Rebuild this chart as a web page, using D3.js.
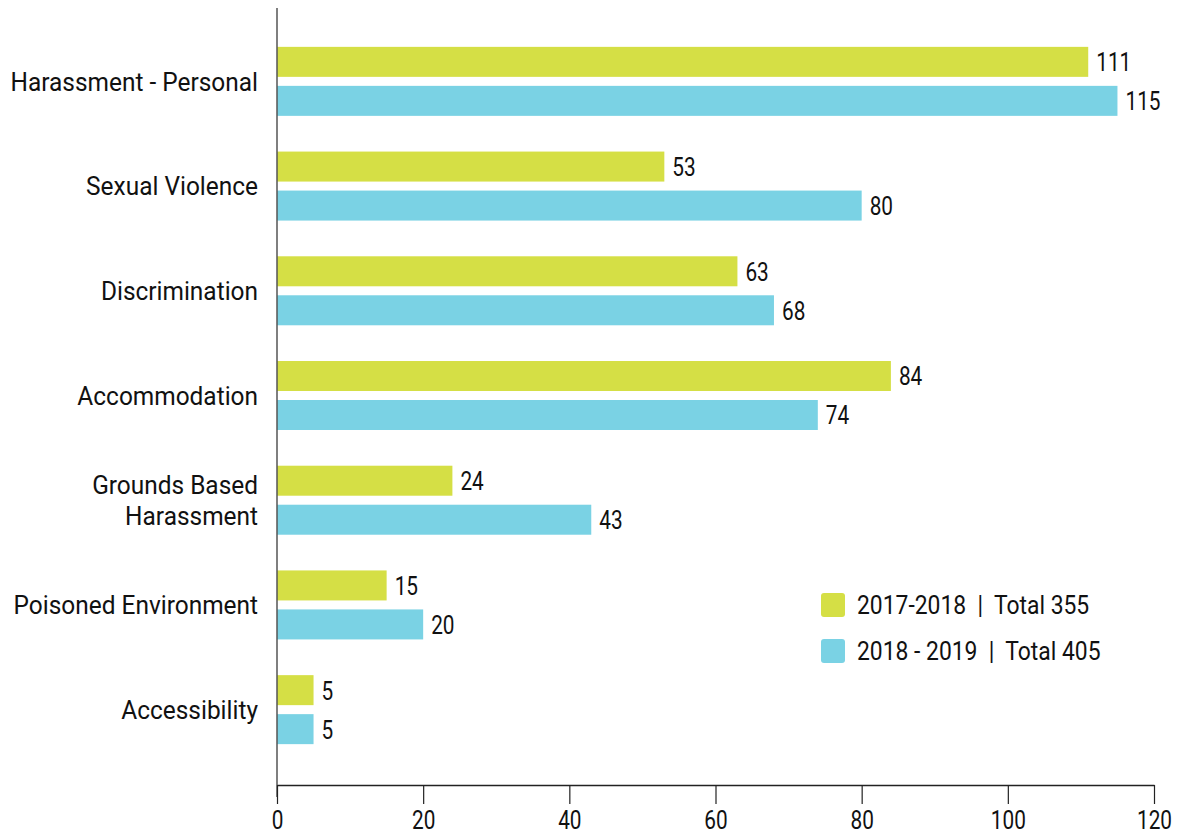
<!DOCTYPE html>
<html>
<head>
<meta charset="utf-8">
<script src="https://cdn.jsdelivr.net/npm/d3@7"></script>
<style>
  html, body { margin: 0; padding: 0; background: #fff; }
  svg text { font-family: "Roboto", "DejaVu Sans Condensed", sans-serif; fill: #111; }
</style>
</head>
<body>
<svg id="chart" width="1183" height="835"></svg>
<script>
// Complaint categories, top to bottom
const categories = [
  "Harassment - Personal",
  "Sexual Violence",
  "Discrimination",
  "Accommodation",
  "Grounds Based Harassment",
  "Poisoned Environment",
  "Accessibility"
];
// Display lines for each category label
const categoryLines = [
  ["Harassment - Personal"],
  ["Sexual Violence"],
  ["Discrimination"],
  ["Accommodation"],
  ["Grounds Based", "Harassment"],
  ["Poisoned Environment"],
  ["Accessibility"]
];
const seriesNames = ["2017-2018", "2018-2019"];
const legendLabels = ["2017-2018  |  Total 355", "2018 - 2019  |  Total 405"];
const values2017 = [111, 53, 63, 84, 24, 15, 5];
const values2019 = [115, 80, 68, 74, 43, 20, 5];
const xTicks = [0, 20, 40, 60, 80, 100, 120];
const colors = ["#d5df45", "#7ad2e4"];

const svg = d3.select("#chart");
const fontSize = 26;
// Horizontal squeeze to get a condensed look from the installed face
const squeezeLabel = 0.94, squeezeNum = 0.8, squeezeLegend = 0.88;

const x = d3.scaleLinear().domain([0, 120]).range([277, 1154]);
const y = d3.scaleBand().domain(categories).range([29, 762]).padding(0);
const ySub = d3.scaleBand().domain(seriesNames)
  .range([y.bandwidth() / 2 - 34.5, y.bandwidth() / 2 + 34.5])
  .paddingInner(9 / 39).paddingOuter(0);
const color = d3.scaleOrdinal().domain(seriesNames).range(colors);

const rows = categories.map((c, i) => ({
  category: c,
  lines: categoryLines[i],
  bars: [
    { series: seriesNames[0], value: values2017[i] },
    { series: seriesNames[1], value: values2019[i] }
  ]
}));

// Bars and value labels
const groups = svg.append("g").selectAll("g")
  .data(rows).join("g")
  .attr("transform", d => `translate(0,${y(d.category)})`);

groups.selectAll("rect")
  .data(d => d.bars).join("rect")
  .attr("x", x(0))
  .attr("y", d => ySub(d.series))
  .attr("width", d => x(d.value) - x(0))
  .attr("height", ySub.bandwidth())
  .attr("fill", d => color(d.series));

groups.selectAll("g.value")
  .data(d => d.bars).join("g")
  .attr("class", "value")
  .attr("transform", d => `translate(${x(d.value) + 8},${ySub(d.series) + ySub.bandwidth() / 2}) scale(${squeezeNum},1)`)
  .append("text")
  .attr("dy", "0.36em")
  .attr("font-size", fontSize)
  .text(d => d.value);

// Category labels
groups.append("g")
  .attr("transform", `translate(258,${y.bandwidth() / 2}) scale(${squeezeLabel},1)`)
  .append("text")
  .attr("text-anchor", "end")
  .attr("font-size", fontSize)
  .selectAll("tspan")
  .data(d => d.lines.map((t, i) => ({ t, i, n: d.lines.length })))
  .join("tspan")
  .attr("x", 0)
  .attr("dy", d => d.i === 0 ? `${0.36 - (d.n - 1) * 0.6}em` : "1.2em")
  .text(d => d.t);

// Vertical axis line
svg.append("line")
  .attr("x1", x(0)).attr("x2", x(0))
  .attr("y1", 8).attr("y2", 797)
  .attr("stroke", "#555").attr("stroke-width", 1.5);

// Bottom axis
const xAxis = d3.axisBottom(x).tickValues(xTicks).tickSize(19).tickSizeOuter(0).tickPadding(7);
const gx = svg.append("g").attr("transform", "translate(0,785)").call(xAxis);
gx.select(".domain").attr("stroke", "#222").attr("stroke-width", 1.5);
gx.selectAll(".tick line").attr("stroke", "#222").attr("stroke-width", 1.2);
gx.selectAll(".tick text")
  .attr("font-size", fontSize)
  .attr("font-family", null)
  .attr("fill", "#111")
  .attr("transform", `scale(${squeezeNum},1)`);

// Legend
const legend = svg.append("g").attr("transform", "translate(821,593)");
const items = legend.selectAll("g").data(seriesNames).join("g")
  .attr("transform", (d, i) => `translate(0,${i * 46})`);
items.append("rect")
  .attr("width", 24).attr("height", 24).attr("rx", 3)
  .attr("fill", d => color(d));
items.append("g")
  .attr("transform", `translate(36,12) scale(${squeezeLegend},1)`)
  .append("text")
  .attr("dy", "0.36em")
  .attr("font-size", fontSize)
  .style("white-space", "pre")
  .text((d, i) => legendLabels[i]);
</script>
</body>
</html>
